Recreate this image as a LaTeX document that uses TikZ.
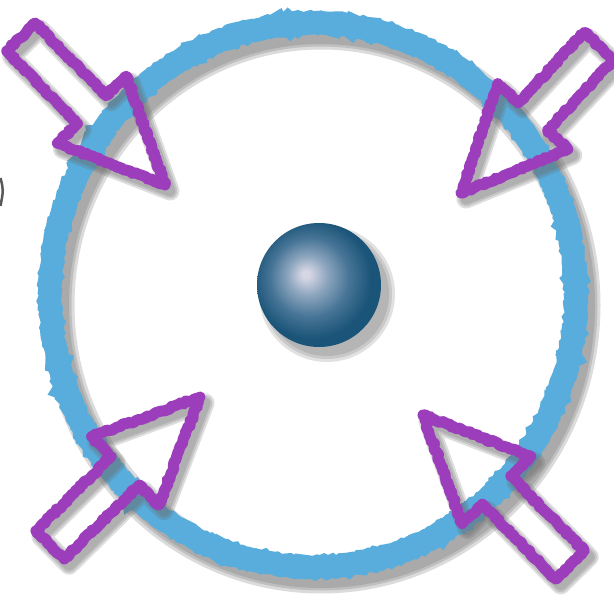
\documentclass[tikz,border=0pt]{standalone}
\usetikzlibrary{calc,decorations.pathmorphing}
\definecolor{ringblue}{RGB}{88,173,220}
\definecolor{arrowpurple}{RGB}{156,62,188}
\definecolor{shadowgray}{RGB}{105,105,105}
\definecolor{sphhi}{RGB}{214,214,228}
\definecolor{sphlight}{RGB}{140,165,190}
\definecolor{sphmid}{RGB}{70,116,150}
\definecolor{sphdark}{RGB}{26,84,120}
\pgfdeclareradialshading{sphereshade}{\pgfpoint{-5.5bp}{4.5bp}}{%
  color(0bp)=(sphhi); color(1.5bp)=(sphhi); color(8bp)=(sphlight);
  color(16bp)=(sphmid); color(24bp)=(sphdark); color(50bp)=(sphdark)}
\tikzset{
  chalk/.style={decorate,decoration={random steps,segment length=2.5pt,amplitude=1.2pt}},
  ringline/.style={draw=ringblue,line width=23pt,chalk},
  ringshadow/.style={draw=shadowgray,line width=#1,opacity=0.24},
  arrowline/.style={draw=arrowpurple,line width=11pt,line join=round,chalk},
  arrowshadow/.style={draw=shadowgray,line width=#1,line join=round,opacity=0.22},
  blobshadow/.style={fill=shadowgray,opacity=0.2},
  edgemark/.style={draw=black!65,line width=2.5pt}
}
% #1 style, #2 tail coordinate, #3 tip coordinate
\newcommand\hollowarrow[3]{%
  \coordinate (ab) at ($(#3)!105pt!(#2)$);
  \draw[#1] ($(#2)!20pt!90:(#3)$) -- ($(ab)!20pt!-90:(#2)$)
    -- ($(ab)!48pt!-90:(#2)$) -- (#3) -- ($(ab)!48pt!90:(#2)$)
    -- ($(ab)!20pt!90:(#2)$) -- ($(#2)!20pt!-90:(#3)$) -- cycle;}
\newcommand\shadedarrow[2]{%
  \begin{scope}[transform canvas={shift={(5pt,-6pt)}}]
    \foreach \lw in {19pt,15pt,11pt}{\hollowarrow{arrowshadow=\lw}{#1}{#2}}
  \end{scope}
  \hollowarrow{arrowline}{#1}{#2}}
\begin{document}
\begin{tikzpicture}[x=1pt,y=-1pt]
  \useasboundingbox (0,0) rectangle (614,599);
  \fill[white] (0,0) rectangle (614,599);
  % left-edge mark
  \draw[edgemark] (0.5,178) .. controls (3.5,190) .. (0.5,206);
  % ring shadow and ring
  \coordinate (ringc) at (313,295);
  \coordinate (ringsh) at (321,305);
  \foreach \lw in {33pt,27pt,22pt}{
    \draw[ringshadow=\lw] (ringsh) ellipse [x radius=263pt, y radius=272pt];}
  \draw[ringline] (ringc) ellipse [x radius=263pt, y radius=272pt];
  % sphere
  \coordinate (ballc) at (319,285);
  \coordinate (ballsh) at (327,294);
  \foreach \r in {68pt,65pt,62pt}{\fill[blobshadow] (ballsh) circle (\r);}
  \shade[shading=sphereshade] (ballc) circle (62pt);
  % arrows
  \coordinate (tlT) at (21,37);   \coordinate (tlH) at (165,185);
  \coordinate (trT) at (599,46);  \coordinate (trH) at (461,193);
  \coordinate (blT) at (50,545);  \coordinate (blH) at (200,397);
  \coordinate (brT) at (570,565); \coordinate (brH) at (423,415);
  \shadedarrow{tlT}{tlH}
  \shadedarrow{trT}{trH}
  \shadedarrow{blT}{blH}
  \shadedarrow{brT}{brH}
\end{tikzpicture}
\end{document}
